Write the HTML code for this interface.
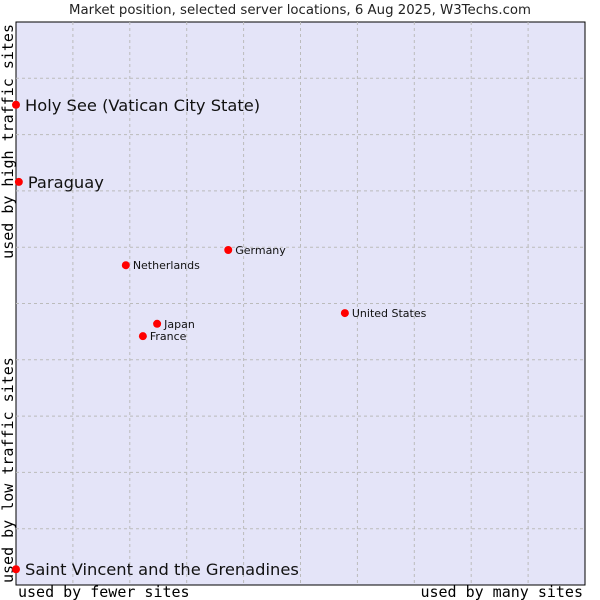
<!DOCTYPE html>
<html><head><meta charset="utf-8"><style>
html,body{margin:0;padding:0;background:#fff;}
svg{display:block;}
</style></head><body>
<svg id="chart" width="600" height="600" xmlns="http://www.w3.org/2000/svg">
<text x="300" y="14" text-anchor="middle" font-family="DejaVu Sans, Liberation Sans, sans-serif" font-size="13.3" fill="#222">Market position, selected server locations, 6 Aug 2025, W3Techs.com</text>
<rect x="16" y="22" width="569" height="563" fill="#e4e4f8" stroke="#000" stroke-width="1"/>
<g id="grid"></g>
<text x="18" y="597" font-family="DejaVu Sans Mono, Liberation Mono, monospace" font-size="15" fill="#000">used by fewer sites</text>
<text x="583" y="597" text-anchor="end" font-family="DejaVu Sans Mono, Liberation Mono, monospace" font-size="15" fill="#000">used by many sites</text>
<text transform="translate(13,583) rotate(-90)" font-family="DejaVu Sans Mono, Liberation Mono, monospace" font-size="15" fill="#000">used by low traffic sites</text>
<text transform="translate(13,24) rotate(-90)" text-anchor="end" font-family="DejaVu Sans Mono, Liberation Mono, monospace" font-size="15" fill="#000">used by high traffic sites</text>
<g id="points"></g>
</svg>
<script>
const names = ["Holy See (Vatican City State)","Paraguay","Netherlands","Germany","United States","Japan","France","Saint Vincent and the Grenadines"];
const xVals = [0, 0.5, 19.3, 37.3, 57.8, 24.8, 22.3, 0];
const yVals = [85.3, 71.6, 56.8, 59.5, 48.3, 46.4, 44.2, 2.8];
const big = [true, true, false, false, false, false, false, true];
const gridTicks = [10,20,30,40,50,60,70,80,90];

const X0=16, X1=585, Y0=585, Y1=22;
const sx = v => X0 + v/100*(X1-X0);
const sy = v => Y0 - v/100*(Y0-Y1);
const NS="http://www.w3.org/2000/svg";
const grid=document.getElementById('grid');
gridTicks.forEach(t=>{
  const v=document.createElementNS(NS,'line');
  v.setAttribute('x1',sx(t));v.setAttribute('x2',sx(t));v.setAttribute('y1',Y1);v.setAttribute('y2',Y0);
  v.setAttribute('stroke','#bbb');v.setAttribute('stroke-dasharray','3,3');
  
  
  grid.appendChild(v);
  const h=document.createElementNS(NS,'line');
  h.setAttribute('y1',sy(t));h.setAttribute('y2',sy(t));h.setAttribute('x1',X0);h.setAttribute('x2',X1);
  h.setAttribute('stroke','#bbb');h.setAttribute('stroke-dasharray','3,3');
  
  
  grid.appendChild(h);
});
const pts=document.getElementById('points');
names.forEach((n,i)=>{
  const cx=sx(xVals[i]), cy=sy(yVals[i]);
  const c=document.createElementNS(NS,'circle');
  c.setAttribute('cx',cx);c.setAttribute('cy',cy);c.setAttribute('r',4);c.setAttribute('fill','#f00');
  
  
  pts.appendChild(c);
  const t=document.createElementNS(NS,'text');
  t.setAttribute('x',cx+(big[i]?9:7));t.setAttribute('y',cy+(big[i]?6:4));
  t.setAttribute('font-family','DejaVu Sans, Liberation Sans, sans-serif');
  t.setAttribute('font-size',big[i]?16.3:11);
  t.setAttribute('fill','#111');
  t.textContent=n;
  
  
  pts.appendChild(t);
});
</script>
</body></html>
